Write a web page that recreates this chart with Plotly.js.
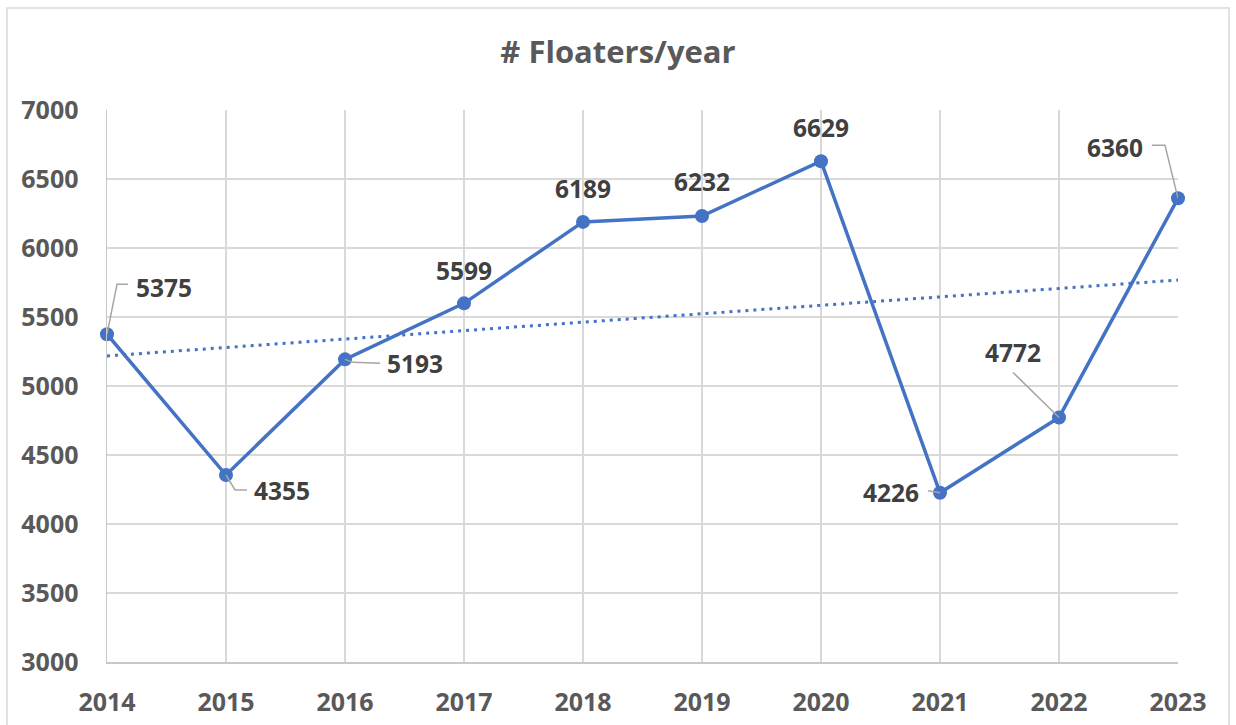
<!DOCTYPE html>
<html>
<head>
<meta charset="utf-8">
<script src="https://cdn.plot.ly/plotly-3.0.1.min.js"></script>
<style>html,body{margin:0;padding:0;background:#fff;}#chart{width:1236px;height:725px;}</style>
</head>
<body>
<div id="chart"></div>
<script>
// ---- data ----
const years = [2014, 2015, 2016, 2017, 2018, 2019, 2020, 2021, 2022, 2023];
const floaters = [5375, 4355, 5193, 5599, 6189, 6232, 6629, 4226, 4772, 6360];
const trendYears = [2014, 2023];
const trendValues = [5218, 5768];
const yTicks = [3000, 3500, 4000, 4500, 5000, 5500, 6000, 6500, 7000];
const chartTitle = '# Floaters/year';

// ---- label placement (pixel offsets from the point, style only) ----
const labelOffsets = [
  {dx: 57, dy: 47, leader: 'M0,0 L10,50 L21,50'},
  {dx: 56, dy: -15, leader: 'M0,0 L9,-15 L21,-15'},
  {dx: 70, dy: -4, leader: 'M0,0 L8,-3 L35,-4'},
  {dx: 0, dy: 33},
  {dx: 0, dy: 33},
  {dx: 0, dy: 34},
  {dx: 0, dy: 34},
  {dx: -49, dy: 0, leader: 'M-12,2 L0,0'},
  {dx: -46, dy: 65, leader: 'M-46,45 L0,0'},
  {dx: -63, dy: 51, leader: 'M-26,53 L-13,53 L0,0'}
];

const blue = '#4472C4';
const fontFam = '"Open Sans", "Liberation Sans", sans-serif';

const traces = [
  {
    x: trendYears, y: trendValues, type: 'scatter', mode: 'lines',
    line: {color: blue, width: 3, dash: '3px,5px'},
    hoverinfo: 'skip', showlegend: false, cliponaxis: false
  },
  {
    x: years, y: floaters, type: 'scatter', mode: 'lines+markers',
    line: {color: blue, width: 3.5},
    marker: {color: blue, size: 14},
    showlegend: false, cliponaxis: false
  }
];

const annotations = years.map((yr, i) => ({
  x: yr, y: floaters[i], xref: 'x', yref: 'y',
  text: String(floaters[i]), showarrow: false,
  xshift: labelOffsets[i].dx, yshift: labelOffsets[i].dy,
  font: {family: fontFam, size: 24.5, color: '#404040', weight: 'bold'}
}));

const shapes = [
  {
    type: 'rect', xref: 'paper', yref: 'paper',
    x0: -0.0934, x1: 1.0476, y0: -0.14, y1: 1.1848,
    line: {color: '#d9d9d9', width: 1.5}, fillcolor: 'rgba(0,0,0,0)', layer: 'below'
  }
];
years.forEach((yr, i) => {
  if (labelOffsets[i].leader) {
    shapes.push({
      type: 'path', xref: 'x', yref: 'y',
      xsizemode: 'pixel', ysizemode: 'pixel',
      xanchor: yr, yanchor: floaters[i],
      path: labelOffsets[i].leader,
      line: {color: '#a6a6a6', width: 1.5}, layer: 'above'
    });
  }
});

const layout = {
  width: 1236, height: 725,
  margin: {l: 107, r: 58, t: 110, b: 63},
  paper_bgcolor: '#ffffff', plot_bgcolor: '#ffffff',
  title: {
    text: chartTitle, x: 0.5, xref: 'container', xanchor: 'center',
    y: 1 - 52 / 725, yref: 'container', yanchor: 'middle',
    font: {family: fontFam, size: 31, color: '#595959', weight: 'bold'}
  },
  xaxis: {
    range: [2014, 2023], tickmode: 'array', tickvals: years, ticktext: years.map(String),
    showgrid: true, gridcolor: '#d9d9d9', gridwidth: 1.5,
    showline: true, linecolor: '#c8c8c8', linewidth: 1.5,
    zeroline: false, ticks: '', ticklabelstandoff: 17,
    tickfont: {family: fontFam, size: 25, color: '#595959', weight: 'bold'},
    fixedrange: true
  },
  yaxis: {
    range: [3000, 7000], tickmode: 'array', tickvals: yTicks, ticktext: yTicks.map(String),
    showgrid: true, gridcolor: '#d9d9d9', gridwidth: 1.5,
    showline: true, linecolor: '#c8c8c8', linewidth: 1.5,
    zeroline: false, ticks: '', ticklabelstandoff: 22,
    tickfont: {family: fontFam, size: 25, color: '#595959', weight: 'bold'},
    fixedrange: true
  },
  annotations: annotations,
  shapes: shapes,
  hovermode: false
};

Plotly.newPlot('chart', traces, layout, {displayModeBar: false, staticPlot: true});
</script>
</body>
</html>
